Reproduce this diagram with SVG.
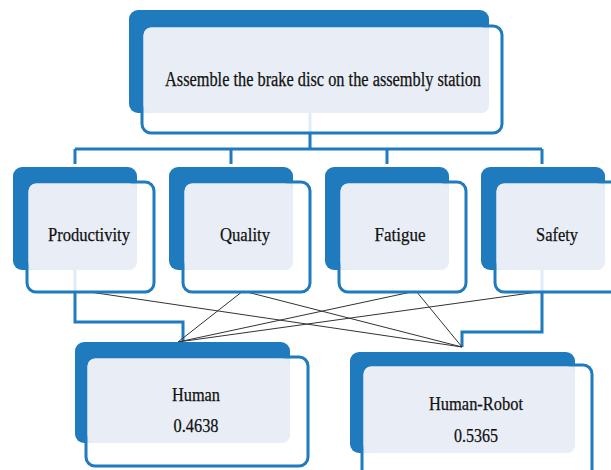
<svg xmlns="http://www.w3.org/2000/svg" width="611" height="470" viewBox="0 0 611 470">
<style>
.bk{fill:#1f7bbd}
.ol{fill:#ffffff;fill-opacity:0.86;stroke:#1f7bbd;stroke-width:3}
.lt{fill:#e9eef6}
.t{font-family:"Liberation Serif","Times New Roman",serif;font-size:19px;fill:#111;stroke:#111;stroke-width:0.25;text-anchor:middle}
.bl{fill:none;stroke:#1f7bbd;stroke-width:3}
.th{fill:none;stroke:#333;stroke-width:1}
</style>
<rect width="611" height="470" fill="#fff"/>
<g id="connectors">
<path class="bl" d="M310 113V149M75 149H542M75 149V164M231 149V164M387 149V164M542 149V164"/>
<path class="bl" d="M75 270V322H183V341"/>
<path class="bl" d="M542 270V332H462V347"/>
<path class="th" d="M83 291L462 347M243 291L178 342M243 291L462 347M416 291L178 342M416 291L462 347M545 291L178 342"/>
</g>
<g id="goal">
<rect class="bk" x="129" y="10" width="360" height="103" rx="9"/>
<rect class="ol" x="142" y="26" width="360" height="107" rx="9"/>
<rect class="lt" x="143.5" y="27.5" width="345.5" height="85.5" rx="8"/>
<text class="t" x="323" y="86" style="font-size:20px" textLength="316" lengthAdjust="spacingAndGlyphs">Assemble the brake disc on the assembly station</text>
</g>
<g id="productivity">
<rect class="bk" x="13" y="167" width="124" height="103" rx="9"/>
<rect class="ol" x="27" y="182" width="127" height="110" rx="9"/>
<rect class="lt" x="28.5" y="183.5" width="108.5" height="86.5" rx="8"/>
<text class="t" x="89" y="241" textLength="82" lengthAdjust="spacingAndGlyphs">Productivity</text>
</g>
<g id="quality">
<rect class="bk" x="169" y="167" width="124" height="103" rx="9"/>
<rect class="ol" x="183" y="182" width="127" height="110" rx="9"/>
<rect class="lt" x="184.5" y="183.5" width="108.5" height="86.5" rx="8"/>
<text class="t" x="245" y="241" textLength="50" lengthAdjust="spacingAndGlyphs">Quality</text>
</g>
<g id="fatigue">
<rect class="bk" x="325" y="167" width="124" height="103" rx="9"/>
<rect class="ol" x="339" y="182" width="127" height="110" rx="9"/>
<rect class="lt" x="340.5" y="183.5" width="108.5" height="86.5" rx="8"/>
<text class="t" x="400" y="241" textLength="51" lengthAdjust="spacingAndGlyphs">Fatigue</text>
</g>
<g id="safety">
<rect class="bk" x="481" y="167" width="124" height="103" rx="9"/>
<rect class="ol" x="495" y="182" width="127" height="110" rx="9"/>
<rect class="lt" x="496.5" y="183.5" width="108.5" height="86.5" rx="8"/>
<text class="t" x="557" y="241" textLength="42" lengthAdjust="spacingAndGlyphs">Safety</text>
</g>
<g id="human">
<rect class="bk" x="75" y="342" width="215" height="101" rx="9"/>
<rect class="ol" x="86" y="357" width="222" height="109" rx="9"/>
<rect class="lt" x="87.5" y="358.5" width="202.5" height="84.5" rx="8"/>
<text class="t" x="196" y="401" textLength="48" lengthAdjust="spacingAndGlyphs">Human</text>
<text class="t" x="196" y="432" textLength="45" lengthAdjust="spacingAndGlyphs">0.4638</text>
</g>
<g id="human-robot">
<rect class="bk" x="350" y="352" width="225" height="101" rx="9"/>
<rect class="ol" x="362" y="365" width="230" height="115" rx="9"/>
<rect class="lt" x="363.5" y="366.5" width="211.5" height="86.5" rx="8"/>
<text class="t" x="476" y="410" textLength="94" lengthAdjust="spacingAndGlyphs">Human-Robot</text>
<text class="t" x="476" y="442" textLength="44" lengthAdjust="spacingAndGlyphs">0.5365</text>
</g>
</svg>
